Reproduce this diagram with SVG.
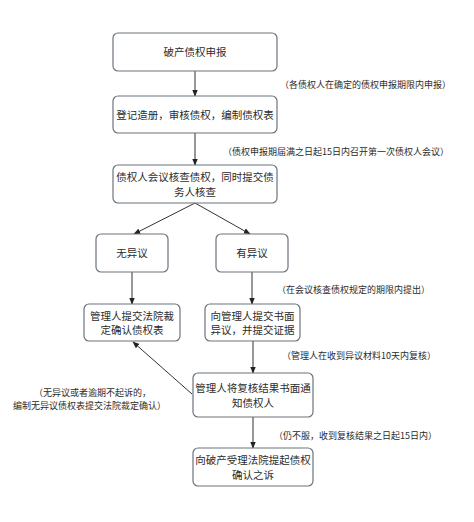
<svg xmlns="http://www.w3.org/2000/svg" width="474" height="522" viewBox="0 0 474 522">
<style>
.box{fill:#ffffff;stroke:#6b747d;stroke-width:1.2}
.t{font-family:"Noto Sans CJK SC","Noto Sans",sans-serif;font-size:10.5px;fill:#2b2b2b;text-anchor:middle}
.n{font-family:"Noto Sans CJK SC","Noto Sans",sans-serif;font-size:9px;fill:#2b2b2b}
.c{stroke:#333;stroke-width:1;fill:none;marker-end:url(#ah)}
</style>
<defs>
<marker id="ah" viewBox="0 0 10 10" refX="9" refY="5" markerWidth="7" markerHeight="7" orient="auto" markerUnits="userSpaceOnUse">
<path d="M0,1 L10,5 L0,9 Z" fill="#222"/>
</marker>
</defs>
<rect width="474" height="522" fill="#ffffff"/>
<g id="connectors">
<line class="c" x1="195" y1="71" x2="195" y2="96"/>
<line class="c" x1="195" y1="133" x2="195" y2="165"/>
<line class="c" x1="195" y1="203" x2="134" y2="234"/>
<line class="c" x1="195" y1="203" x2="250" y2="234"/>
<line class="c" x1="132" y1="272" x2="132" y2="304"/>
<line class="c" x1="252" y1="272" x2="252" y2="304"/>
<line class="c" x1="253" y1="341" x2="253" y2="373"/>
<line class="c" x1="192" y1="394" x2="133" y2="342"/>
<line class="c" x1="253" y1="417" x2="253" y2="448"/>
</g>
<g id="n1"><rect class="box" x="113" y="33" width="164" height="38" rx="5"/><text class="t" x="195" y="56">破产债权申报</text></g>
<g id="n2"><rect class="box" x="113" y="96" width="164" height="37" rx="5"/><text class="t" x="195" y="118.5">登记造册，审核债权，编制债权表</text></g>
<g id="n3"><rect class="box" x="113" y="165" width="164" height="38" rx="5"/><text class="t" x="195" y="181">债权人会议核查债权，同时提交债</text><text class="t" x="195" y="196">务人核查</text></g>
<g id="n4"><rect class="box" x="96" y="234" width="72" height="38" rx="5"/><text class="t" x="132" y="257">无异议</text></g>
<g id="n5"><rect class="box" x="216" y="234" width="72" height="38" rx="5"/><text class="t" x="252" y="257">有异议</text></g>
<g id="n6"><rect class="box" x="84" y="304" width="96" height="37" rx="5"/><text class="t" x="132" y="319.5">管理人提交法院裁</text><text class="t" x="132" y="334">定确认债权表</text></g>
<g id="n7"><rect class="box" x="205" y="304" width="95" height="37" rx="5"/><text class="t" x="252.5" y="319.5">向管理人提交书面</text><text class="t" x="252.5" y="334">异议，并提交证据</text></g>
<g id="n8"><rect class="box" x="193" y="373" width="120" height="44" rx="5"/><text class="t" x="253" y="392">管理人将复核结果书面通</text><text class="t" x="253" y="407">知债权人</text></g>
<g id="n9"><rect class="box" x="193" y="448" width="120" height="38" rx="5"/><text class="t" x="253" y="464">向破产受理法院提起债权</text><text class="t" x="253" y="478.5">确认之诉</text></g>
<g id="labels">
<text class="n" x="280" y="88">（各债权人在确定的债权申报期限内申报）</text>
<text class="n" x="223" y="155">（债权申报期届满之日起15日内召开第一次债权人会议）</text>
<text class="n" x="277" y="293">（在会议核查债权规定的期限内提出）</text>
<text class="n" x="282" y="359">（管理人在收到异议材料10天内复核）</text>
<text class="n" x="34" y="396">（无异议或者逾期不起诉的，</text>
<text class="n" x="13" y="409">编制无异议债权表提交法院裁定确认）</text>
<text class="n" x="274" y="439">（仍不服，收到复核结果之日起15日内）</text>
</g>
</svg>
